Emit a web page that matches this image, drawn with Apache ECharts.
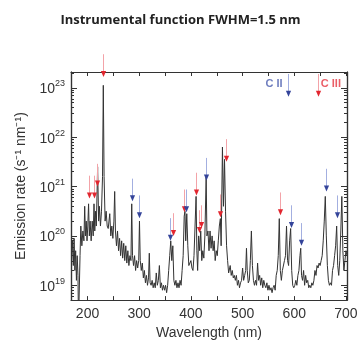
<!DOCTYPE html>
<html><head><meta charset="utf-8">
<script src="https://cdn.jsdelivr.net/npm/echarts@6/dist/echarts.min.js"></script>
<style>html,body{margin:0;padding:0;background:#fff}#c{width:361px;height:345px}</style>
</head><body><div id="c"></div>
<script>
// Spectrum: wavelength (nm) and log10 of emission rate (s^-1 nm^-1)
const wavelength = [
169,171,172.5,174,175.5,177,178.5,180,181.5,182.5,
184.5,185.5,187,189,191,193,194.5,196,197.5,199,
200.5,202,203.5,205,207,209,211,212.5,214,215.5,
217,219.5,221.5,223,225,227,229,230.5,232,234,
236,238,240,243,245,247,249,251,252.5,254,
256,258,260,262,264,266,268,270,272,274,
276,278,280,282,284,285.5,287,289,291,293,
295,297,299,300.5,302,304,306,308,310,312,
314,316,318,319.5,321,323,325,327,329,331,
333,335,337,339,341,343,345,347,349,351,
353,355,357,359,361,363,365,367,369,371,
373,375,377,379,381,383,385,387,388.5,390,
392,394,396,398,400,402,404,406,408,410,
411.5,413,415,417,419,421,423,425,427,429.5,
431,433,435,437,439,441,443,445,447,449,
451,453,455,457,458.5,461,463,465,467,469,
471,473,476,478,480,482,484,486,488,490,
492,494,496,498,500,502,504,506,507.5,509,
511,513,515,517,519,521,523,525,527,529,
531,533,535,537,539,541,543,545,547,549,
551,553,555,557,559,561,563,565,567,569,
571,573,575,577,579,581,583,585,587,589,
591,593,595,597,599,601,603,605,607,609,
611,612.5,614,616,618,620,622,624,626,628,
630,632,634,636,638,640,642,644,646,648,
650,652,654,656,658,660,662,664,666,668,
670,672,674,676,678,680,682,684,686,688,
690,692,694,696,698,700,702
];
const logRate = [
19.5,19.9,19.4,19.95,19.3,19.7,19.1,19.6,19.2,18.2,
18.2,19.6,20.2,19.8,20.1,19.9,20.6,20.0,20.3,19.9,
20.2,20.65,20.0,20.3,19.9,20.3,20.0,20.65,20.1,20.5,
20.2,21.4,20.3,20.6,20.2,20.5,21.2,23.05,21.2,20.3,
20.5,20.2,20.15,20.45,20.0,20.2,19.95,20.3,20.9,20.1,
19.8,20.1,19.7,19.95,19.6,19.9,19.55,19.85,19.5,19.8,
19.45,19.7,19.4,19.6,19.5,20.65,19.6,19.4,19.6,19.3,
19.5,19.35,19.5,20.3,19.5,19.3,19.45,19.15,19.3,19.05,
19.2,19.0,19.15,19.65,19.05,19.0,19.1,18.95,19.05,18.95,
19.25,19.0,19.1,19.4,18.95,19.05,18.9,19.0,18.9,19.0,
18.85,19.0,19.3,19.6,19.9,19.5,19.8,19.1,19.0,19.1,
18.95,19.05,18.95,19.1,19.0,19.3,19.6,20.4,20.5,19.9,
20.45,19.8,19.4,19.4,19.5,19.35,19.3,19.6,20.2,20.8,
19.7,19.3,20.0,19.7,20.1,19.5,19.7,19.55,20.0,21.2,
20.0,20.1,19.7,20.1,19.75,20.0,19.7,19.9,19.5,19.7,
19.6,19.9,20.2,20.35,19.8,21.8,20.6,21.55,20.5,19.8,
19.5,19.25,19.4,19.2,19.3,19.15,19.2,19.1,19.2,19.0,
19.1,18.95,19.05,19.1,19.35,19.1,19.2,19.3,19.75,19.3,
19.05,19.1,19.5,20.1,19.4,19.1,19.0,19.1,19.0,19.45,
19.1,19.2,19.0,19.15,18.95,19.1,19.0,18.95,19.05,18.9,
19.0,18.9,18.95,18.85,18.95,19.0,18.9,19.2,19.3,19.6,
20.35,19.3,19.1,19.3,19.3,19.5,19.6,20.2,19.5,19.4,
19.9,20.15,19.3,19.0,18.95,19.0,19.1,19.0,19.2,19.3,
19.6,19.75,19.2,19.1,19.3,19.0,19.2,19.05,19.1,18.95,
19.0,18.95,19.05,19.0,19.1,19.3,19.2,19.4,19.35,19.45,
19.4,19.5,19.6,19.9,20.3,20.8,20.0,19.4,19.1,19.0,
19.05,19.0,19.3,19.4,19.6,19.8,20.2,19.4,19.2,19.5,
20.1,20.8,19.7,19.3,19.5,19.7,19.6
];
// Line identification arrows: wavelength and log10 value of the arrow tip
const cIIIWavelength = [202, 212.5, 218, 230.5, 365, 387, 410, 415, 419, 457, 467, 571.5];
const cIIITip = [20.76, 20.76, 21.0, 23.22, 20.0, 20.48, 20.82, 20.06, 20.16, 20.38, 21.5, 20.42];
const cIIWavelength = [285.5, 300.5, 360, 390, 429.5, 593, 612.5, 660.5, 682];
const cIITip = [20.7, 20.36, 19.9, 20.48, 21.12, 20.16, 19.8, 20.9, 20.36];
// key arrows
const keyNames = ['C II', 'C III'];
const keyWavelength = [587, 645.5];
const keyTip = [22.82, 22.82];

const xTickValues = [200, 250, 300, 350, 400, 450, 500, 550, 600, 650, 700];
const xLabelValues = [200, 300, 400, 500, 600, 700];
const yDecades = [19, 20, 21, 22, 23];

const X_MIN = 168, X_MAX = 702, Y_MIN = 18.7, Y_MAX = 23.32;
const ARROW_LEN = 0.46;
const yMinor = [];
for (let d = 18; d <= 23; d++) for (let k = 2; k <= 9; k++) {
  const v = d + Math.log10(k);
  if (v > Y_MIN && v < Y_MAX) yMinor.push(v);
}
const RED_SHAFT = '#f3a3a8', RED_HEAD = '#e2262f', BLUE_SHAFT = '#a3afe0', BLUE_HEAD = '#34449a';
const FRAME = '#333';
const FONT = 'Liberation Sans';

function arrowSeries(wls, tips, shaftColor, headColor) {
  return {
    type: 'custom', clip: false, silent: true, z: 5,
    xAxisIndex: 0, yAxisIndex: 0,
    data: wls.map((w, i) => [w, tips[i]]),
    renderItem: function (params, api) {
      const w = api.value(0), t = api.value(1);
      const tip = api.coord([w, t]);
      const top = api.coord([w, t + ARROW_LEN]);
      const x = Math.round(tip[0]) + 0.5, y = tip[1];
      return {
        type: 'group',
        children: [
          {type: 'line', shape: {x1: x, y1: top[1], x2: x, y2: y - 5},
            style: {stroke: shaftColor, lineWidth: 1}},
          {type: 'polygon', shape: {points: [[x - 2.6, y - 6], [x + 2.6, y - 6], [x, y]]},
            style: {fill: headColor}}
        ]
      };
    }
  };
}

const chart = echarts.init(document.getElementById('c'), null, {renderer: 'canvas'});
const yLabelRich = {
  b: {fontSize: 14, fontFamily: FONT, color: FRAME, padding: [3, 0, 0, 0]},
  s: {fontSize: 9, fontFamily: FONT, color: FRAME, verticalAlign: 'top'}
};
function yAxisDef(pos, major) {
  return {
    type: 'value', position: pos, min: Y_MIN, max: Y_MAX,
    axisLine: {show: true, onZero: false, lineStyle: {color: FRAME, width: 1.2}},
    axisTick: {show: true, inside: true, length: major ? 6 : 3,
      customValues: major ? yDecades : yMinor, lineStyle: {color: FRAME, width: 1}},
    axisLabel: (pos === 'left' && major) ? {
      show: true, customValues: yDecades, margin: 6,
      formatter: v => '{b|10}{s|' + Math.round(v) + '}', rich: yLabelRich
    } : {show: false},
    splitLine: {show: false},
    name: (pos === 'left' && major) ? 'Emission rate (s\u207B\u00B9 nm\u207B\u00B9)' : '',
    nameLocation: 'middle', nameGap: 43, nameRotate: 90,
    nameTextStyle: {fontSize: 14, fontFamily: FONT, color: FRAME}
  };
}
function xAxisDef(pos) {
  return {
    type: 'value', position: pos, min: X_MIN, max: X_MAX,
    axisLine: {show: true, onZero: false, lineStyle: {color: FRAME, width: 1.2}},
    axisTick: {show: true, inside: true, length: 4, customValues: xTickValues, lineStyle: {color: FRAME, width: 1}},
    axisLabel: pos === 'bottom' ? {show: true, customValues: xLabelValues, margin: 7,
      fontSize: 14, fontFamily: FONT, color: FRAME} : {show: false},
    splitLine: {show: false},
    name: pos === 'bottom' ? 'Wavelength (nm)' : '',
    nameLocation: 'middle', nameGap: 19,
    nameTextStyle: {fontSize: 14, fontFamily: FONT, color: FRAME, verticalAlign: 'top'}
  };
}

chart.setOption({
  animation: false,
  backgroundColor: '#fff',
  title: {
    text: 'Instrumental function FWHM=1.5 nm', left: 'center', top: 9,
    textStyle: {fontSize: 13, fontWeight: 'bold', fontFamily: 'Open Sans', color: '#222'}
  },
  grid: {left: 71, right: 14, top: 72, bottom: 42, containLabel: false},
  xAxis: [xAxisDef('bottom'), xAxisDef('top')],
  yAxis: [yAxisDef('left', true), yAxisDef('left', false), yAxisDef('right', true), yAxisDef('right', false)],
  series: [
    {
      type: 'line', xAxisIndex: 0, yAxisIndex: 0, showSymbol: false, symbol: 'none', clip: true,
      lineStyle: {color: '#333', width: 1}, z: 3,
      data: wavelength.map((w, i) => [w, logRate[i]])
    },
    arrowSeries(cIIIWavelength, cIIITip, RED_SHAFT, RED_HEAD),
    arrowSeries(cIIWavelength, cIITip, BLUE_SHAFT, BLUE_HEAD),
    arrowSeries([keyWavelength[0]], [keyTip[0]], BLUE_SHAFT, BLUE_HEAD),
    arrowSeries([keyWavelength[1]], [keyTip[1]], RED_SHAFT, RED_HEAD),
    {
      type: 'scatter', clip: false, silent: true, symbolSize: 0,
      data: keyNames.map((n, i) => ({
        value: [keyWavelength[i], keyTip[i] + 0.26],
        label: {show: true, formatter: n, position: i === 0 ? 'left' : 'right', distance: i === 0 ? 5 : 3,
          fontSize: 11, fontWeight: 'bold', fontFamily: 'Liberation Sans',
          color: i === 0 ? '#4a5cae' : '#e53440'}
      }))
    }
  ]
});
</script></body></html>
